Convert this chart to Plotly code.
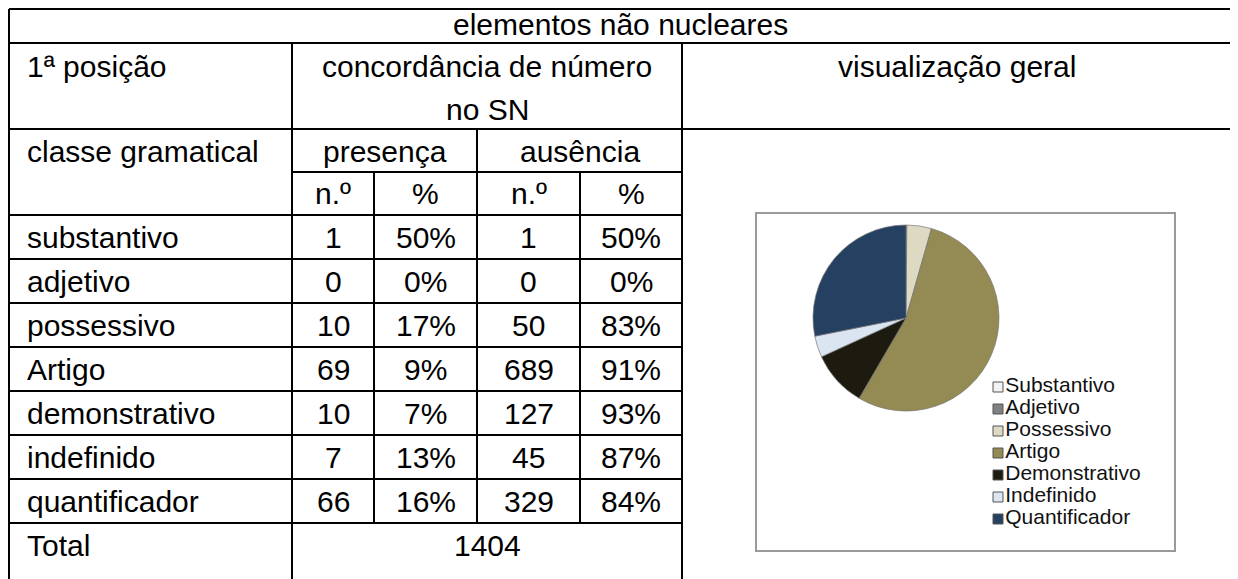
import plotly.graph_objects as go

# table data
ROW_LABELS = ["substantivo", "adjetivo", "possessivo", "Artigo",
              "demonstrativo", "indefinido", "quantificador"]
LEGEND_LABELS = ["Substantivo", "Adjetivo", "Possessivo", "Artigo",
                 "Demonstrativo", "Indefinido", "Quantificador"]
PRESENCA_N = [1, 0, 10, 69, 10, 7, 66]
PRESENCA_PCT = ["50%", "0%", "17%", "9%", "7%", "13%", "16%"]
AUSENCIA_N = [1, 0, 50, 689, 127, 45, 329]
AUSENCIA_PCT = ["50%", "0%", "83%", "91%", "93%", "87%", "84%"]
TOTAL = 1404
SLICE_COLORS = ["#f2f2f2", "#808080", "#ddd9c3", "#948a54",
                "#1d1b10", "#dbe5f1", "#254061"]

TITLE = "elementos não nucleares"
W, H = 1238, 579

# grid layout (pixels, figure coordinates)
COL_X = [1, 284, 366, 469, 572, 674, 1238]
ROW_Y = [1, 35, 121, 164, 207, 251, 295, 339, 383, 427, 471, 515, 579]
RIGHT_EDGE = 1224  # table edge used for centring (falls outside the view)
PAD = 16
FONT = dict(family="Liberation Sans, Arial, sans-serif", size=30, color="black")

fig = go.Figure()

# pie: totals per class
totals = [p + a for p, a in zip(PRESENCA_N, AUSENCIA_N)]
cx, cy, r = 898, 310, 93
fig.add_trace(go.Pie(
    labels=LEGEND_LABELS,
    values=totals,
    sort=False,
    direction="clockwise",
    rotation=0,
    textinfo="none",
    marker=dict(colors=SLICE_COLORS, line=dict(color="rgba(120,120,120,0.7)", width=1)),
    domain=dict(x=[(cx - r) / W, (cx + r) / W], y=[(H - cy - r) / H, (H - cy + r) / H]),
    showlegend=False,
))

# legend as markers + text on a category axis
fig.add_trace(go.Scatter(
    x=[0.5] * len(LEGEND_LABELS),
    y=LEGEND_LABELS,
    mode="markers+text",
    text=LEGEND_LABELS,
    textposition="middle right",
    textfont=dict(family="Liberation Sans, Arial, sans-serif", size=21, color="#111"),
    marker=dict(symbol="square", size=10, color=SLICE_COLORS,
                line=dict(color="#555", width=1)),
    cliponaxis=False,
    showlegend=False,
    hoverinfo="skip",
    xaxis="x2",
    yaxis="y2",
))

shapes = []


def hline(y, x0, x1):
    shapes.append(dict(type="line", xref="x", yref="y", x0=x0, x1=x1, y0=y, y1=y,
                       line=dict(color="black", width=2)))


def vline(x, y0, y1):
    shapes.append(dict(type="line", xref="x", yref="y", x0=x, x1=x, y0=y0, y1=y1,
                       line=dict(color="black", width=2)))


left, right = COL_X[0], COL_X[-1]
hline(ROW_Y[0], left, right)
hline(ROW_Y[1], left, right)
hline(ROW_Y[2], left, right)
hline(ROW_Y[3], COL_X[1], COL_X[5])
for y in ROW_Y[4:-1]:
    hline(y, left, COL_X[5])

vline(left, ROW_Y[0], ROW_Y[-1])
vline(COL_X[1], ROW_Y[1], ROW_Y[-1])
vline(COL_X[5], ROW_Y[1], ROW_Y[-1])
vline(COL_X[3], ROW_Y[2], ROW_Y[-2])
vline(COL_X[2], ROW_Y[3], ROW_Y[-2])
vline(COL_X[4], ROW_Y[3], ROW_Y[-2])

# chart frame
shapes.append(dict(type="rect", xref="x", yref="y", x0=748, x1=1167, y0=205, y1=543,
                   line=dict(color="#9a9a9a", width=2), fillcolor="rgba(0,0,0,0)"))

ann = []


def text(s, x, y, anchor="center"):
    ann.append(dict(text=s, x=x, y=y, xref="x", yref="y", xanchor=anchor,
                    yanchor="middle", showarrow=False, font=FONT))


def mid(a, b):
    return (a + b) / 2


line_h = 43
# title row: keep the label box inside the figure
ann.append(dict(text=TITLE, x=mid(left, RIGHT_EDGE), y=ROW_Y[1] - 1, xref="x", yref="y",
                xanchor="center", yanchor="bottom", showarrow=False, font=FONT,
                borderpad=0))
top2 = ROW_Y[1] + 23
text("1ª posição", left + PAD, top2, "left")
text("concordância de número", mid(COL_X[1], COL_X[5]), top2)
text("no SN", mid(COL_X[1], COL_X[5]), top2 + line_h)
text("visualização geral", mid(COL_X[5], RIGHT_EDGE), top2)
top3 = ROW_Y[2] + 22
text("classe gramatical", left + PAD, top3, "left")
text("presença", mid(COL_X[1], COL_X[3]), top3)
text("ausência", mid(COL_X[3], COL_X[5]), top3)
for i in range(4):
    text("n.º" if i % 2 == 0 else "%", mid(COL_X[i + 1], COL_X[i + 2]), mid(ROW_Y[3], ROW_Y[4]))

for i, lab in enumerate(ROW_LABELS):
    yc = mid(ROW_Y[4 + i], ROW_Y[5 + i])
    text(lab, left + PAD, yc, "left")
    cells = [PRESENCA_N[i], PRESENCA_PCT[i], AUSENCIA_N[i], AUSENCIA_PCT[i]]
    for j, v in enumerate(cells):
        text(str(v), mid(COL_X[j + 1], COL_X[j + 2]), yc)

yt = ROW_Y[-2] + 22
text("Total", left + PAD, yt, "left")
text(str(TOTAL), mid(COL_X[1], COL_X[5]), yt)

leg_top, leg_bot = 368, 522
fig.update_layout(
    width=W,
    height=H,
    margin=dict(l=0, r=0, t=0, b=0),
    plot_bgcolor="white",
    paper_bgcolor="white",
    xaxis=dict(range=[0, W], visible=False, domain=[0, 1]),
    yaxis=dict(range=[H, 0], visible=False, domain=[0, 1]),
    xaxis2=dict(range=[0, 1], visible=False, domain=[985 / W, 995 / W], anchor="y2"),
    yaxis2=dict(type="category", categoryarray=LEGEND_LABELS, range=[6.5, -0.5],
                visible=False, domain=[(H - leg_bot) / H, (H - leg_top) / H], anchor="x2"),
    shapes=shapes,
    annotations=ann,
)

fig.write_html("out.html")
